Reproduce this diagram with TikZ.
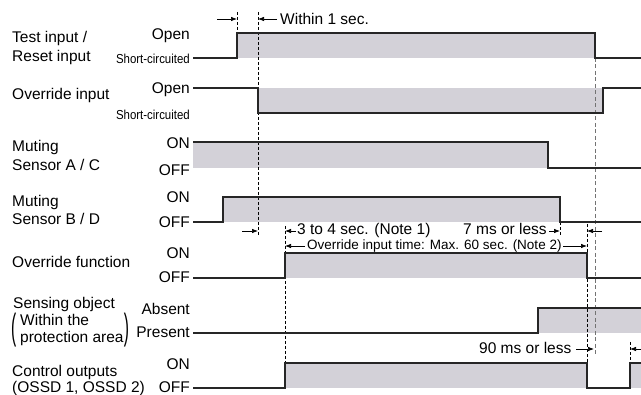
\documentclass[tikz,border=0pt]{standalone}
\usepackage{fontspec}
\usepackage{graphicx}
\setmainfont{Liberation Sans}
\newfontfamily\narrowsans[FakeStretch=0.88]{Liberation Sans}
\usetikzlibrary{arrows.meta}

\definecolor{pulsegray}{RGB}{211,209,216}

\tikzset{
  wave/.style={line width=1.2pt, draw=black!85, line join=miter},
  pulse/.style={fill=pulsegray},
  guide/.style={dash pattern=on 3pt off 2pt, line width=0.7pt},
  grayguide/.style={dash pattern=on 4pt off 2.5pt, line width=1pt, draw=black!55},
  dimarrow/.style={-{Latex[length=6pt,width=4.5pt]}, line width=0.7pt},
  sigtext/.style={anchor=base west, inner sep=0pt, font=\fontsize{15.5}{17}\selectfont},
  lvltext/.style={anchor=base east, inner sep=0pt, font=\fontsize{15.5}{17}\selectfont},
  lvlsmall/.style={lvltext, font=\narrowsans\fontsize{13}{15}\selectfont},
  notetext/.style={anchor=base west, inner sep=0pt, font=\fontsize{15.5}{17}\selectfont},
}

\begin{document}
\begin{tikzpicture}[x=1pt, y=-1pt]
    \useasboundingbox (0,0) rectangle (641,395);

    % signal names
    \node[sigtext] (testA) at (12,43) {Test input /};
    \node[sigtext] (testB) at (12,62) {Reset input};
    \node[sigtext] (ovr) at (12,100) {Override input};
    \node[sigtext] (mutA1) at (12,152) {Muting};
    \node[sigtext] (mutA2) at (12,171) {Sensor A / C};
    \node[sigtext] (mutB1) at (12,207) {Muting};
    \node[sigtext] (mutB2) at (12,225) {Sensor B / D};
    \node[sigtext] (ovrfn) at (12,268) {Override function};
    \node[sigtext] (sens) at (13,309) {Sensing object};
    \node[anchor=west, inner sep=0pt, font=\fontsize{15.5}{17}\selectfont] (lpar) at (11,330) {\scalebox{1}[2.35]{(}};
    \node[sigtext] (sensA) at (20,326) {Within the};
    \node[sigtext] (sensB) at (20,343) {protection area};
    \node[anchor=west, inner sep=0pt, font=\fontsize{15.5}{17}\selectfont] (rpar) at (sensB.east |- 0,330) {\scalebox{1}[2.35]{)}};
    \node[sigtext] (ctrlA) at (12,377) {Control outputs};
    \node[sigtext] (ctrlB) at (12,393) {(OSSD 1, OSSD 2)};

    % level names
    \node[lvltext] (open1) at (190,40) {Open};
    \node[lvlsmall] (short1) at (190,64) {Short-circuited};
    \node[lvltext] (open2) at (190,94) {Open};
    \node[lvlsmall] (short2) at (190,120) {Short-circuited};
    \node[lvltext] (on3) at (190,149) {ON};
    \node[lvltext] (off3) at (190,176) {OFF};
    \node[lvltext] (on4) at (190,203) {ON};
    \node[lvltext] (off4) at (190,228) {OFF};
    \node[lvltext] (on5) at (190,259) {ON};
    \node[lvltext] (off5) at (190,283) {OFF};
    \node[lvltext] (absent) at (190,315) {Absent};
    \node[lvltext] (present) at (190,338) {Present};
    \node[lvltext] (on7) at (190,370) {ON};
    \node[lvltext] (off7) at (190,393) {OFF};

    % grey pulses
    \fill[pulse] (237,33) rectangle (595,58);
    \fill[pulse] (258,88) rectangle (603,113);
    \fill[pulse] (193,142) rectangle (548,168);
    \fill[pulse] (223,197) rectangle (560,222);
    \fill[pulse] (285,253) rectangle (587,278);
    \fill[pulse] (538,308) rectangle (641,333);
    \fill[pulse] (285,363) rectangle (587,388);
    \fill[pulse] (630,363) rectangle (641,388);

    % guide lines
    \draw[guide] (237,12) -- (237,33);
    \draw[guide] (258,12) -- (258,236);
    \draw[guide] (285,226) -- (285,363);
    \draw[guide] (560,222) -- (560,236);
    \draw[guide] (587,224) -- (587,363);
    \draw[grayguide] (595,58) -- (595,355);
    \draw[guide] (630,342) -- (630,363);

    % waveforms
    \draw[wave] (193,58) -- (237,58) -- (237,33) -- (595,33) -- (595,58) -- (641,58);
    \draw[wave] (193,88) -- (258,88) -- (258,113) -- (603,113) -- (603,88) -- (641,88);
    \draw[wave] (193,142) -- (548,142) -- (548,168) -- (641,168);
    \draw[wave] (193,222) -- (223,222) -- (223,197) -- (560,197) -- (560,222) -- (641,222);
    \draw[wave] (193,278) -- (285,278) -- (285,253) -- (587,253) -- (587,278) -- (641,278);
    \draw[wave] (193,333) -- (538,333) -- (538,308) -- (641,308);
    \draw[wave] (193,388) -- (285,388) -- (285,363) -- (587,363) -- (587,388) -- (630,388) -- (630,363) -- (641,363);

    % timing notes
    \node[notetext] (within) at (280,25) {Within 1 sec.};
    \draw[dimarrow] (217,19) -- (237,19);
    \draw[dimarrow] (277,19) -- (258,19);

    \draw[dimarrow] (242,231) -- (258,231);
    \node[notetext] (note1) at (297,235) {3 to 4 sec. (Note 1)};
    \draw[dimarrow] (296,231) -- (285,231);
    \node[notetext, font=\fontsize{13.5}{15}\selectfont] (note2) at (307,250) {Override input time: Max. 60 sec. (Note 2)};
    \draw[dimarrow] (305,246) -- (285,246);
    \draw[dimarrow] (563,246) -- (587,246);

    \node[notetext] (sevenms) at (463,235) {7 ms or less};
    \draw[dimarrow] (549,231) -- (560,231);
    \draw[dimarrow] (602,231) -- (587,231);

    \node[notetext] (ninetyms) at (479,354) {90 ms or less};
    \draw[dimarrow] (576,349) -- (594,349);
    \draw[dimarrow] (641,349) -- (630,349);
\end{tikzpicture}
\end{document}
